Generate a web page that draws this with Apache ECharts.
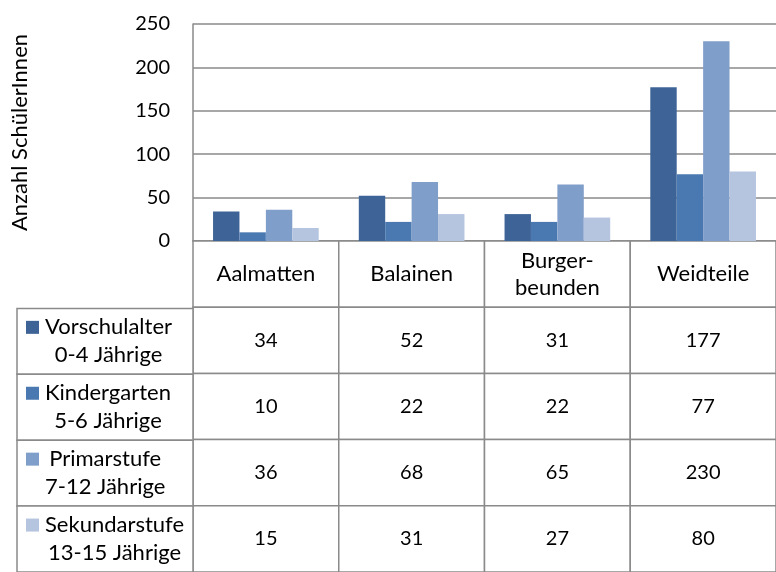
<!DOCTYPE html>
<html>
<head>
<meta charset="utf-8">
<script src="https://cdn.jsdelivr.net/npm/echarts@6/dist/echarts.min.js"></script>
<style>
  html, body { margin: 0; padding: 0; background: #fff; }
  #root { width: 776px; height: 572px; }
</style>
</head>
<body>
<div id="root"></div>
<script>
// data
var categories = ['Aalmatten', 'Balainen', 'Burger-\nbeunden', 'Weidteile']
var seriesNames = ['Vorschulalter', 'Kindergarten', 'Primarstufe', 'Sekundarstufe']
var seriesAges = ['0-4 Jährige', '5-6 Jährige', '7-12 Jährige', '13-15 Jährige']
var vorschulalter = [34, 52, 31, 177]
var kindergarten = [10, 22, 22, 77]
var primarstufe = [36, 68, 65, 230]
var sekundarstufe = [15, 31, 27, 80]
var yTicks = [0, 50, 100, 150, 200, 250]

var values = [vorschulalter, kindergarten, primarstufe, sekundarstufe]
var colors = ['#3e6497', '#4a79b1', '#809eca', '#b5c4df']
var font = 'Lato'
var lineColor = '#8a8a8a'

// table cells: header row (row 0) + one row per series
var tableCells = []
categories.forEach(function (c, ci) {
  tableCells.push({ value: [ci, 0], text: c, size: 22 })
})
values.forEach(function (vals, si) {
  vals.forEach(function (v, ci) {
    tableCells.push({ value: [ci, si + 1], text: String(v), size: 20 })
  })
})

function renderCell (params, api) {
  var c = api.coord([api.value(0), api.value(1)])
  var s = api.size([1, 1])
  var cell = tableCells[params.dataIndex]
  return {
    type: 'group',
    children: [
      { type: 'rect', shape: { x: c[0] - s[0] / 2, y: c[1] - s[1] / 2, width: s[0], height: s[1] },
        style: { fill: '#fff', stroke: lineColor, lineWidth: 1.5 } },
      { type: 'text', style: { text: cell.text, x: c[0], y: c[1], align: 'center', verticalAlign: 'middle',
        fontSize: cell.size, fontFamily: font, lineHeight: 27, fill: '#000' } }
    ]
  }
}

function renderLegend (params, api) {
  var c = api.coord([api.value(0), api.value(1)])
  var s = api.size([1, 1])
  var r = params.dataIndex
  var left = c[0] - s[0] / 2
  return {
    type: 'group',
    children: [
      { type: 'rect', shape: { x: left, y: c[1] - s[1] / 2, width: s[0], height: s[1] },
        style: { fill: '#fff', stroke: lineColor, lineWidth: 1.5 } },
      { type: 'rect', shape: { x: left + 9, y: c[1] - 14 - 6.5, width: 13, height: 13 },
        style: { fill: colors[r] } },
      { type: 'text', style: {
        text: '{t|' + seriesNames[r] + '}\n{t|' + seriesAges[r] + '}',
        x: left + 28, y: c[1], align: 'left', verticalAlign: 'middle',
        rich: { t: { align: 'center', fontSize: 22, fontFamily: font, lineHeight: 28, fill: '#000' } }
      } }
    ]
  }
}

var myChart = echarts.init(document.getElementById('root'))
var option = {
  animation: false,
  grid: [
    { left: 193, top: 24, width: 596, height: 217 },
    { left: 193, top: 241, width: 596, height: 337 },
    { left: 17, top: 308.4, width: 176, height: 269.6 }
  ],
  xAxis: [
    { type: 'category', gridIndex: 0, data: categories,
      axisLine: { lineStyle: { color: lineColor, width: 1.5 } },
      axisTick: { show: false }, axisLabel: { show: false } },
    { type: 'category', gridIndex: 1, data: categories, show: false },
    { type: 'category', gridIndex: 2, data: [''], show: false }
  ],
  yAxis: [
    { type: 'value', gridIndex: 0, min: yTicks[0], max: yTicks[yTicks.length - 1], interval: 50,
      name: 'Anzahl SchülerInnen', nameLocation: 'middle', nameGap: 162,
      nameTextStyle: { fontSize: 22, fontFamily: font, color: '#000' },
      axisLine: { show: true, lineStyle: { color: lineColor, width: 1.5 } },
      axisTick: { show: false },
      axisLabel: { fontSize: 20, fontFamily: font, color: '#000', margin: 23 },
      splitLine: { lineStyle: { color: lineColor, width: 1.5 } } },
    { type: 'category', gridIndex: 1, inverse: true, data: [''].concat(seriesNames), show: false },
    { type: 'category', gridIndex: 2, inverse: true, data: seriesNames, show: false }
  ],
  series: values.map(function (vals, i) {
    return {
      name: seriesNames[i],
      type: 'bar',
      xAxisIndex: 0,
      yAxisIndex: 0,
      data: vals,
      barGap: '0%',
      barCategoryGap: '27.5%',
      itemStyle: { color: colors[i] }
    }
  }).concat([
    { type: 'custom', xAxisIndex: 1, yAxisIndex: 1, renderItem: renderCell,
      data: tableCells.map(function (d) { return d.value }) },
    { type: 'custom', xAxisIndex: 2, yAxisIndex: 2, renderItem: renderLegend,
      data: seriesNames.map(function (n, i) { return [0, i] }) }
  ])
}
myChart.setOption(option)
</script>
</body>
</html>
